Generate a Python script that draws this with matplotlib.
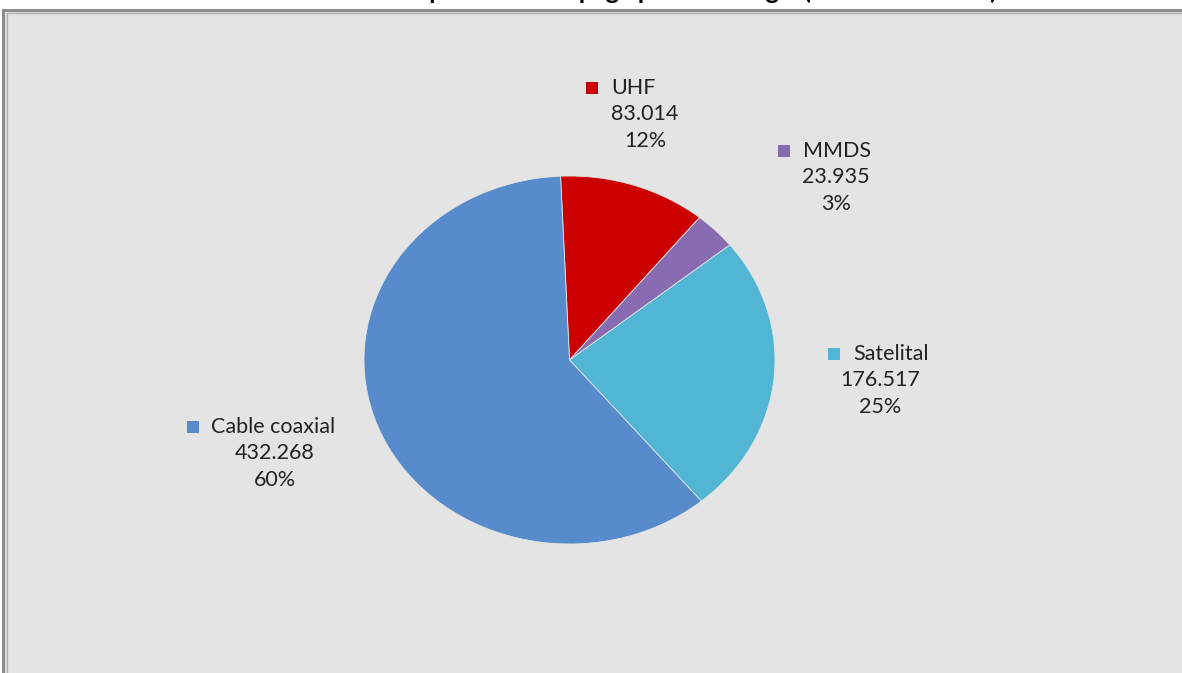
import matplotlib.pyplot as plt
from matplotlib.patches import Rectangle

# data (Excel order: first slice starts at 12 o'clock, clockwise)
labels = ["UHF", "MMDS", "Satelital", "Cable coaxial"]
values = [83014, 23935, 176517, 432268]
colors = ["#cc0000", "#896bb2", "#50b6d3", "#578bcb"]

title = "Gráfico 1: Suscriptores de TV paga por tecnología (Diciembre 2013)"

W, H = 1182, 673
plt.rcParams['font.family'] = ['Lato', 'DejaVu Sans']

fig = plt.figure(figsize=(W / 100, H / 100), dpi=100)
fig.patch.set_facecolor("white")


def fx(x):
    return x / W


def fy(y):
    return 1 - y / H


# chart area frame (runs off the right and bottom edges)
fig.patches.append(Rectangle((fx(3), fy(H + 20)), fx(W + 20), (H + 10) / H,
                             transform=fig.transFigure, facecolor="#e4e4e4",
                             edgecolor="#8c8c8c", lw=2.2, zorder=0))
fig.patches.append(Rectangle((fx(6.5), fy(H + 20)), fx(W + 20), (H + 7) / H,
                             transform=fig.transFigure, facecolor="none",
                             edgecolor="#b0b0b0", lw=1.0, zorder=1))

# title is cropped at the top edge in the original screenshot
fig.text(fx(622), fy(-1), title, ha="center", va="baseline",
         fontsize=18, fontweight="bold", color="black")

# pie drawn as an ellipse: axes box = ellipse bounding box
left, right, top, bottom = 364, 775, 176, 544
ax = fig.add_axes([fx(left), fy(bottom), fx(right - left), (bottom - top) / H])
ax.set_zorder(5)
ax.patch.set_visible(False)
ax.pie(values, colors=colors, startangle=92.5, counterclock=False,
       wedgeprops=dict(linewidth=0.6, edgecolor="#e4e4e4"))
ax.set_aspect("auto")
ax.set_xlim(-1, 1)
ax.set_ylim(-1, 1)
ax.axis("off")

# data labels: key square + name, value, percent
total = sum(values)
label_pos = {  # (square x, name x, centre x, first line y)
    "UHF": (592, 611, 645, 88),
    "MMDS": (784, 803, 836, 151),
    "Satelital": (834, 853, 880, 354),
    "Cable coaxial": (193, 211, 275, 427),
}
fs = 15.5
for name, v, c in zip(labels, values, colors):
    sx, nx, cx, y0 = label_pos[name]
    fig.patches.append(Rectangle((fx(sx - 6), fy(y0 + 6)), fx(12), 12 / H,
                                 transform=fig.transFigure, facecolor=c,
                                 edgecolor="none", zorder=3))
    fig.text(fx(nx), fy(y0), name, ha="left", va="center",
             fontsize=fs, color="#222222")
    fig.text(fx(cx), fy(y0 + 26), f"{v:,}".replace(",", "."), ha="center",
             va="center", fontsize=fs, color="#222222")
    fig.text(fx(cx), fy(y0 + 53), f"{round(v / total * 100)}%", ha="center",
             va="center", fontsize=fs, color="#222222")

fig.savefig("out.png", dpi=100)
